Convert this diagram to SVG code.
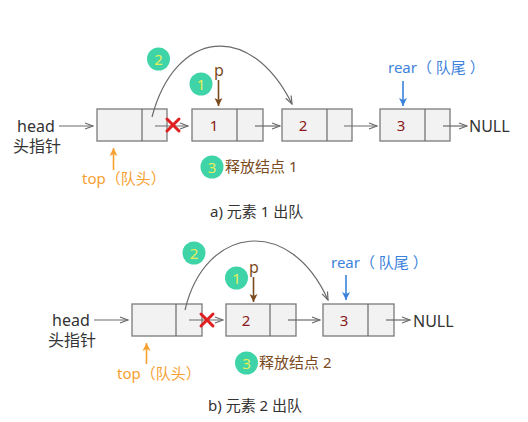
<svg xmlns="http://www.w3.org/2000/svg" width="528" height="422" viewBox="0 0 528 422">
<style>
text{font-family:"Noto Sans","Noto Sans CJK SC",sans-serif}
.box{fill:#f2f2f2;stroke:#7a7a7a;stroke-width:1.3}
.ln{stroke:#6a6a6a;stroke-width:1.2;fill:none}
.num{font-size:15px;fill:#8b1a1a;text-anchor:middle}
.lbl{font-size:16px;fill:#333}
.cap{font-size:15px;fill:#333}
.circ{fill:#3fd4a8}
.cn{font-size:15px;fill:#e6ee5a;text-anchor:middle}
.br{fill:#7b4a1e}
.rel{font-size:15px;fill:#7b4a1e}
.blue{fill:#3c82dc}
.org{fill:#f5a030}
.x{stroke:#e02020;stroke-width:3;stroke-linecap:round}
</style>
<defs>
<marker id="ah" markerWidth="10" markerHeight="8" refX="9" refY="4" orient="auto" markerUnits="userSpaceOnUse">
<polyline points="1,1 9,4 1,7" fill="none" stroke="#6a6a6a" stroke-width="1.2"/>
</marker>
<marker id="ahb" markerWidth="10" markerHeight="10" refX="8" refY="5" orient="auto" markerUnits="userSpaceOnUse">
<path d="M0,1 L8,5 L0,9 L2,5 Z" fill="#7b4a1e"/>
</marker>
<marker id="ahl" markerWidth="10" markerHeight="10" refX="8" refY="5" orient="auto" markerUnits="userSpaceOnUse">
<path d="M0,1 L8,5 L0,9 L2,5 Z" fill="#3c82dc"/>
</marker>
<marker id="aho" markerWidth="10" markerHeight="10" refX="8" refY="5" orient="auto" markerUnits="userSpaceOnUse">
<path d="M0,1 L8,5 L0,9 L2,5 Z" fill="#f5a030"/>
</marker>
</defs>

<!-- ===== Part a ===== -->
<g id="a-head"><text class="lbl" x="17" y="132" font-size="17">head</text><text class="lbl" x="13" y="152" font-size="15">头指针</text></g>
<g id="a-n0"><rect class="box" x="97" y="109" width="70" height="32"/><line class="ln" x1="142" y1="109" x2="142" y2="141"/></g>
<g id="a-n1"><rect class="box" x="192" y="109" width="71" height="32"/><line class="ln" x1="237" y1="109" x2="237" y2="141"/><text class="num" x="214" y="131">1</text></g>
<g id="a-n2"><rect class="box" x="282" y="109" width="70" height="32"/><line class="ln" x1="327" y1="109" x2="327" y2="141"/><text class="num" x="303" y="131">2</text></g>
<g id="a-n3"><rect class="box" x="380" y="109" width="70" height="32"/><line class="ln" x1="425" y1="109" x2="425" y2="141"/><text class="num" x="401" y="131">3</text></g>
<g id="a-null"><text class="lbl" x="469" y="132" font-size="17">NULL</text></g>
<g id="a-p"><text x="214" y="76" font-size="16" class="br">p</text></g>
<g id="a-rear"><text x="388" y="73" font-size="15" class="blue">rear（ 队尾 ）</text></g>
<g id="a-top"><text x="82" y="184" font-size="15" class="org">top（队头）</text></g>
<g id="a-s1"><circle class="circ" cx="201" cy="84" r="11.5"/><text class="cn" x="201" y="89.5">1</text></g>
<g id="a-s2"><circle class="circ" cx="158.5" cy="59" r="11.5"/><text class="cn" x="158.5" y="64.5">2</text></g>
<g id="a-s3"><circle class="circ" cx="212" cy="167" r="11.5"/><text class="cn" x="212" y="172.5">3</text><text class="rel" x="225" y="172">释放结点 1</text></g>
<g id="a-cap"><text class="cap" x="210" y="217">a) 元素 1 出队</text></g>

<g id="a-connectors">
<line class="ln" x1="59" y1="126" x2="93" y2="126" marker-end="url(#ah)"/>
<line class="ln" x1="155" y1="126" x2="188" y2="126" marker-end="url(#ah)"/>
<line class="ln" x1="255" y1="126" x2="280" y2="126" marker-end="url(#ah)"/>
<line class="ln" x1="344" y1="126" x2="377" y2="126" marker-end="url(#ah)"/>
<line class="ln" x1="443" y1="126" x2="467" y2="126" marker-end="url(#ah)"/>
<path class="ln" d="M152,117 C175,30 250,20 292,104" stroke-width="1" marker-end="url(#ah)"/>
<line x1="218.5" y1="80" x2="218.5" y2="106" stroke="#7b4a1e" stroke-width="1.6" marker-end="url(#ahb)"/>
<line x1="403" y1="81" x2="403" y2="106" stroke="#3c82dc" stroke-width="1.6" marker-end="url(#ahl)"/>
<line x1="113.5" y1="170" x2="113.5" y2="148" stroke="#f5a030" stroke-width="1.6" marker-end="url(#aho)"/>
<line class="x" x1="167" y1="119" x2="179" y2="131"/><line class="x" x1="179" y1="119" x2="167" y2="131"/>
</g>

<!-- ===== Part b ===== -->
<g id="b-head"><text class="lbl" x="52" y="326" font-size="17">head</text><text class="lbl" x="48" y="346" font-size="15">头指针</text></g>
<g id="b-n0"><rect class="box" x="132" y="304" width="70" height="32"/><line class="ln" x1="176" y1="304" x2="176" y2="336"/></g>
<g id="b-n1"><rect class="box" x="226" y="304" width="70" height="32"/><line class="ln" x1="270" y1="304" x2="270" y2="336"/><text class="num" x="246" y="326">2</text></g>
<g id="b-n2"><rect class="box" x="323" y="304" width="71" height="32"/><line class="ln" x1="368" y1="304" x2="368" y2="336"/><text class="num" x="344" y="326">3</text></g>
<g id="b-null"><text class="lbl" x="413" y="327" font-size="17">NULL</text></g>
<g id="b-p"><text x="249" y="273" font-size="16" class="br">p</text></g>
<g id="b-rear"><text x="331" y="268" font-size="15" class="blue">rear（ 队尾 ）</text></g>
<g id="b-top"><text x="117" y="379" font-size="15" class="org">top（队头）</text></g>
<g id="b-s1"><circle class="circ" cx="236.5" cy="278" r="11.5"/><text class="cn" x="236.5" y="283.5">1</text></g>
<g id="b-s2"><circle class="circ" cx="194" cy="253" r="11.5"/><text class="cn" x="194" y="258.5">2</text></g>
<g id="b-s3"><circle class="circ" cx="246.5" cy="363" r="11.5"/><text class="cn" x="246.5" y="368.5">3</text><text class="rel" x="259" y="368">释放结点 2</text></g>
<g id="b-cap"><text class="cap" x="208" y="411">b) 元素 2 出队</text></g>

<g id="b-connectors">
<line class="ln" x1="94" y1="320" x2="128" y2="320" marker-end="url(#ah)"/>
<line class="ln" x1="189" y1="320" x2="223" y2="320" marker-end="url(#ah)"/>
<line class="ln" x1="288" y1="320" x2="320" y2="320" marker-end="url(#ah)"/>
<line class="ln" x1="386" y1="320" x2="410" y2="320" marker-end="url(#ah)"/>
<path class="ln" d="M185,310 C205,225 290,215 328,300" stroke-width="1" marker-end="url(#ah)"/>
<line x1="253.5" y1="277" x2="253.5" y2="302" stroke="#7b4a1e" stroke-width="1.6" marker-end="url(#ahb)"/>
<line x1="346" y1="275" x2="346" y2="300" stroke="#3c82dc" stroke-width="1.6" marker-end="url(#ahl)"/>
<line x1="146.5" y1="364" x2="146.5" y2="343" stroke="#f5a030" stroke-width="1.6" marker-end="url(#aho)"/>
<line class="x" x1="201" y1="314" x2="213" y2="326"/><line class="x" x1="213" y1="314" x2="201" y2="326"/>
</g>
</svg>
